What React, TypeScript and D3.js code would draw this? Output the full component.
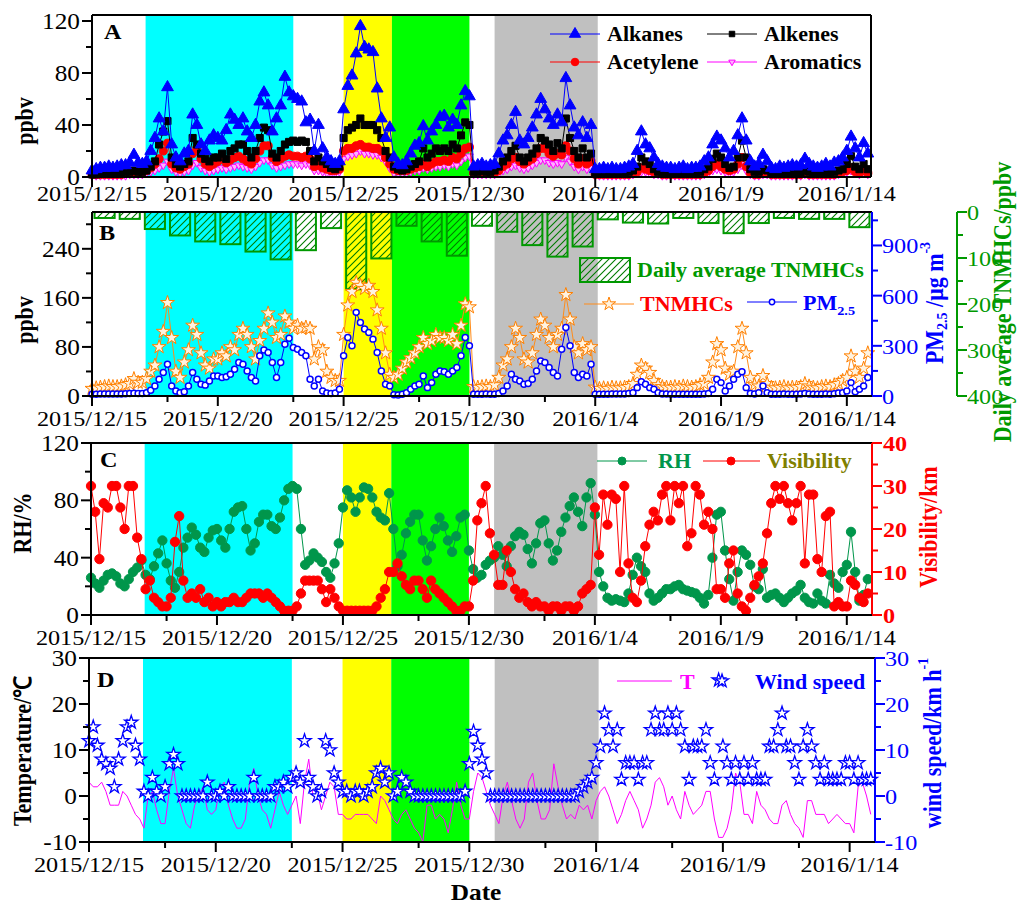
import React from "react";
import * as d3 from "d3";

// ---------- DATA (4-hourly values starting 2015/12/15 00:00) ----------
const alkanes = [
  5,6,7,7,8,7, 8,9,9,11,17,11, 10,12,20,30,45,35, 69,25,15,12,18,20, 48,40,25,20,28,32,
  30,28,36,48,44,40, 45,35,30,40,58,65, 55,35,45,55,77,65, 62,60,58,42,44,20, 40,22,15,12,10,12,
  52,70,78,95,116,100, 98,96,68,45,30,38, 15,10,9,12,18,24, 26,39,28,35,40,46, 47,38,44,40,55,66,
  62,8,9,10,8,9, 10,18,28,32,40,50, 28,25,30,38,48,60, 52,45,40,48,42,76, 55,38,32,42,30,40,
  6,6,7,6,7,6, 6,7,8,10,20,35, 25,22,15,10,8,7, 7,6,7,8,6,7, 7,8,12,15,25,31,
  28,22,15,20,32,45, 28,12,8,10,17,12, 7,6,8,7,8,9, 8,9,14,10,8,7, 8,10,8,11,12,15,
  20,31,22,15,26,18,
];
const alkenes = [
  2,2,3,3,3,3, 3,3,4,4,5,4, 4,5,8,12,25,35, 43,15,10,8,10,12, 30,25,18,14,12,15,
  15,18,14,20,22,25, 25,20,15,20,30,38, 36,18,15,20,25,27, 28,27,28,27,20,12, 15,12,10,7,6,8,
  30,36,38,40,45,40, 40,40,36,30,20,15, 8,6,5,6,8,10, 12,22,15,18,22,20, 22,20,25,22,32,42,
  40,4,4,5,4,4, 5,8,12,15,20,24, 15,12,15,18,22,30, 28,25,20,26,22,45, 30,20,15,22,15,18,
  3,3,3,3,3,3, 3,3,4,5,8,15, 12,10,6,4,3,3, 3,3,3,3,3,3, 3,4,6,8,14,18,
  15,10,7,8,15,28, 15,6,4,4,6,5, 3,3,3,3,3,3, 3,3,5,4,3,3, 3,4,3,4,5,6,
  10,16,8,6,10,6,
];
const acetylene = [
  2,2,2,2,2,2, 2,2,3,3,3,3, 4,5,7,10,14,20, 26,10,7,6,8,10, 18,22,14,10,8,10,
  12,14,11,13,15,16, 14,12,10,14,20,24, 24,15,12,14,16,17, 16,16,15,16,14,8, 9,7,6,5,5,6,
  20,22,22,24,25,23, 23,22,22,20,15,10, 6,5,5,5,6,7, 8,10,8,10,12,12, 13,12,15,14,18,22,
  23,3,3,3,3,3, 3,5,8,10,14,15, 12,10,12,14,18,22, 22,18,16,18,17,24, 20,14,10,14,10,12,
  2,2,2,2,2,2, 2,2,2,3,4,7, 6,5,4,3,2,2, 2,2,2,2,2,2, 2,2,3,5,8,10,
  8,6,5,6,10,15, 8,3,2,2,3,3, 2,2,2,2,2,2, 2,2,3,2,2,2, 2,2,2,2,3,4,
  5,7,4,3,5,3,
];
const aromatics = [
  1,1,1,1,1,1, 1,1,1,2,2,2, 2,3,4,5,7,9, 12,6,4,3,4,5, 9,11,7,5,4,5,
  6,7,6,7,8,9, 8,7,6,8,11,13, 13,9,7,8,9,10, 10,10,9,10,9,5, 5,4,3,3,3,4,
  14,16,17,18,20,18, 18,17,17,15,12,7, 3,3,3,3,4,5, 5,7,6,7,8,8, 9,8,10,9,12,15,
  16,2,2,2,2,2, 2,3,5,6,8,9, 7,6,7,9,11,13, 13,11,10,11,10,15, 12,8,6,8,6,7,
  1,1,1,1,1,1, 1,1,1,2,3,4, 4,3,2,2,1,1, 1,1,1,1,1,1, 1,1,2,3,5,6,
  5,4,3,4,6,9, 5,2,1,1,2,2, 1,1,1,1,1,1, 1,1,2,1,1,1, 1,1,1,1,2,3,
  4,5,3,2,3,2,
];
const tnmhcs = [
  12,13,14,15,16,15, 15,16,18,20,28,22, 22,28,40,50,80,105, 152,95,40,30,55,75, 115,100,70,50,45,60,
  60,70,65,80,75,100, 110,100,80,60,90,110, 135,120,95,100,130,120, 110,115,110,112,110,60, 80,75,40,30,25,25,
  100,148,170,185,180,175, 180,170,140,110,70,35, 30,35,45,55,62,70, 80,95,85,90,100,95, 95,90,100,85,115,150,
  145,15,14,15,16,15, 18,30,50,60,80,110, 95,60,55,70,100,125, 115,95,80,100,110,165, 125,80,70,85,75,80,
  14,12,13,12,14,13, 13,14,15,20,35,50, 45,38,25,18,15,14, 14,15,14,16,15,14, 15,18,20,30,55,85,
  75,45,35,40,80,110, 70,30,18,16,33,20, 14,13,14,15,13,14, 14,15,20,16,14,13, 15,16,15,18,20,25,
  30,65,40,30,45,70,
];
const pm25 = [
  10,10,12,12,12,12, 12,12,14,15,16,15, 15,20,35,60,100,140, 190,60,30,20,25,60, 140,100,70,65,90,120,
  120,110,115,130,160,200, 190,150,110,90,240,275, 260,200,110,200,310,345, 290,280,260,240,100,60, 100,30,18,15,18,40,
  240,350,300,500,440,400, 380,340,260,150,70,60, 8,6,10,20,40,60, 70,120,50,80,130,150, 145,130,150,170,240,350,
  300,10,10,10,12,10, 10,15,30,60,130,100, 90,70,75,100,150,210, 200,170,140,120,280,410, 300,140,110,130,120,190,
  10,10,10,10,12,12, 12,12,15,20,50,85, 70,50,40,20,12,12, 10,10,10,10,10,10, 10,10,12,15,40,100,
  80,30,60,100,130,145, 50,15,12,20,60,20, 10,10,10,12,10,10, 10,12,15,12,10,10, 10,12,10,14,18,20,
  30,80,25,40,60,110,
];
const dailyTNMHCs = [13,15,37,51,64,70,86,103,83,35,168,101,30,64,95,30,43,72,97,75,16,23,25,13,24,46,24,13,15,15,33];
const rh = [
  26,22,19,24,28,29, 27,22,20,25,30,33, 38,28,25,34,43,52, 36,24,19,30,47,54, 61,56,47,44,54,59,
  60,52,47,60,72,75, 76,60,45,50,65,70, 70,62,60,68,80,88, 90,88,60,35,38,43, 40,37,30,26,36,50,
  75,87,82,72,82,89, 88,82,72,68,66,85, 60,34,42,57,65,70, 70,52,38,48,60,68, 62,52,44,55,68,70,
  45,32,26,28,35,38, 40,48,42,34,48,55, 58,56,46,36,50,64, 66,50,38,45,58,68, 76,82,72,62,82,92,
  70,30,20,12,10,11, 10,9,15,28,40,34, 30,15,10,12,15,18, 18,20,21,18,17,16, 15,12,8,14,40,70,
  72,45,25,10,30,45, 42,35,20,18,32,12, 14,15,12,9,12,15, 17,21,12,9,8,15, 10,8,28,22,19,30,
  35,58,30,10,14,25,
];
const visibility = [
  30,24,13,26,25,30, 30,25,20,30,30,18, 13,6,8,4,3,2, 2,4,17,23,8,4, 5,4,6,3,4,2,
  3,2,3,3,4,3, 3,4,5,5,5,4, 5,4,3,2,1,1, 1,2,5,8,8,8, 8,6,3,6,4,2,
  1,1,1,1,1,1, 1,1,2,4,6,10, 10,12,9,7,6,8, 8,6,4,8,6,5, 4,3,2,1,1,2,
  2,8,22,26,30,19, 14,7,7,15,10,6, 4,5,3,2,3,2, 2,1,2,2,1,2, 2,1,2,5,6,7,
  25,14,28,21,28,27, 10,30,12,4,3,8, 16,21,24,22,28,30, 22,30,26,30,16,19, 30,28,21,24,20,6,
  6,4,12,15,5,2, 1,4,7,9,12,19, 26,30,27,30,26,22, 26,30,12,28,28,13, 10,23,24,2,3,2,
  2,8,7,4,3,5,
];
const temperature = [
  3,2,2,3,1,-2, -2,-2,1,0,-2,-4, -5,-7,0,1,-3,-6, -6,1,6,0,-3,-6, -7,-2,0,2,-3,-4,
  -3,2,3,-2,-5,-7, -7,-5,3,6,0,-3, -4,-7,-3,1,-2,-4, -2,0,-6,3,8,0, 1,-3,0,3,2,-4,
  -4,-5,-5,-4,-4,-4, -4,-5,-6,0,-1,-3, -5,-6,-4,-3,-5,-7, -8,-10,-2,-2,-5,-4, -5,-8,-3,3,-2,-5,
  -5,1,5,4,1,-2, -4,-6,0,3,-1,-5, -7,-5,3,5,-1,-5, -5,-3,7,2,-2,-5, -4,-5,-2,-3,-2,-5,
  -1,1,2,0,-3,-6, -4,-1,1,-1,-3,-7, -5,-2,3,4,2,-2, 0,-3,-5,1,-2,-4, -3,-2,1,1,-5,-9,
  -9,-7,-3,5,3,-4, -4,-6,1,-2,-3,-5, -6,-6,-2,-1,-4,-6, -7,-9,-1,-1,-4,-4, -4,-6,-5,-4,-5,-6,
  -6,-8,2,3,0,-4,
];
const windSpeed = [
  12,15,11,8,7,6, 2,8,12,15,16,11, 8,1,0,4,1,0, 2,7,9,7,0,0, 0,0,0,0,3,0,
  0,1,0,2,0,0, 0,0,0,4,0,0, 0,0,2,2,3,2, 4,5,3,12,4,2, 0,1,12,10,5,3,
  1,1,0,1,1,0, 1,2,5,6,3,5, 0,1,4,3,1,0, 0,0,0,0,0,0, 0,0,0,0,0,1,
  7,14,11,8,5,0, 0,0,0,0,0,0, 0,0,0,0,0,0, 0,0,0,0,0,0, 0,0,1,2,3,4,
  7.2,10.8,18,14.4,10.8,14.4, 3.6,7.2,7.2,7.2,3.6,7.2, 7.2,14.4,18,14.4,14.4,18, 14.4,18,14.4,10.8,3.6,10.8, 10.8,10.8,14.4,7.2,3.6,25.2,
  10.8,7.2,3.6,7.2,3.6,7.2, 3.6,7.2,3.6,3.6,3.6,10.8, 10.8,14.4,18,10.8,10.8,7.2, 3.6,10.8,14.4,10.8,7.2,3.6, 7.2,3.6,3.6,3.6,3.6,7.2,
  7.2,3.6,7.2,3.6,3.6,3.6,
];

const dateTickDays = [0, 5, 10, 15, 20, 25, 30];
const dateTickLabels = ["2015/12/15", "2015/12/20", "2015/12/25", "2015/12/30", "2016/1/4", "2016/1/9", "2016/1/14"];
const minorTickDays = [3, 8, 13, 18, 23, 28];
const bandStart = [2.13, 10.0, 11.92, 16.0];
const bandEnd = [8.0, 11.92, 15.0, 20.1];
const bandColor = ["#00FFFF", "#FFFF00", "#00FF00", "#C0C0C0"];

// ---------- helpers ----------
const FONT = "'Liberation Serif','Times New Roman',serif";
const PER_DAY = 6;
const dayOf = (i: number) => i / PER_DAY;

function T(props: any) {
  const { x, y, children, size = 22, weight = "normal", fill = "#000", anchor = "start", rot = 0, sx = 1.1, baseline } = props;
  const tr = rot
    ? `translate(${x},${y}) rotate(${rot}) scale(1,${sx})`
    : `translate(${x},${y}) scale(${sx},1)`;
  return (
    <text transform={tr} fontFamily={FONT} fontSize={size} fontWeight={weight} fill={fill}
      textAnchor={anchor} dominantBaseline={baseline}>
      {children}
    </text>
  );
}

function Marker({ x, y, type, size, fill, stroke, sw = 1, rot = 0 }: any) {
  const d = d3.symbol().type(type).size(size)() as string;
  return <path d={d} transform={`translate(${x},${y})${rot ? ` rotate(${rot})` : ""}`} fill={fill} stroke={stroke} strokeWidth={sw} />;
}

function Series({ data, x, y, color, lineW = 1, type, size, fill, stroke, sw = 1, rot = 0, line = true }: any) {
  const pts: [number, number][] = data.map((v: number, i: number) => [x(dayOf(i)), y(v)]);
  const path = d3.line()(pts) as string;
  const sym = type ? (d3.symbol().type(type).size(size)() as string) : "";
  return (
    <g>
      {line && <path d={path} fill="none" stroke={color} strokeWidth={lineW} />}
      {type && pts.map((p, i) => (
        <path key={i} d={sym} transform={`translate(${p[0]},${p[1]})${rot ? ` rotate(${rot})` : ""}`}
          fill={fill} stroke={stroke} strokeWidth={sw} />
      ))}
    </g>
  );
}

function Bands({ x, top, bottom }: any) {
  return (
    <g>
      {bandStart.map((s, i) => (
        <rect key={i} x={x(s)} y={top} width={x(bandEnd[i]) - x(s)} height={bottom - top} fill={bandColor[i]} />
      ))}
    </g>
  );
}

function XAxis({ x, y, left, right, labelDy = 25 }: any) {
  return (
    <g>
      <line x1={left} x2={right} y1={y} y2={y} stroke="#000" strokeWidth={2} />
      {dateTickDays.map((d, i) => (
        <g key={i}>
          <line x1={x(d)} x2={x(d)} y1={y} y2={y + 10} stroke="#000" strokeWidth={2} />
          <T x={x(d)} y={y + labelDy} anchor="middle">{dateTickLabels[i]}</T>
        </g>
      ))}
      {minorTickDays.map((d, i) => (
        <line key={i} x1={x(d)} x2={x(d)} y1={y} y2={y + 6} stroke="#000" strokeWidth={2} />
      ))}
    </g>
  );
}

function YAxis({ scale, x, top, bottom, ticks, minor, side = "left", color = "#000", weight = "normal", labelGap = 12, size = 22, fmt = (v: number) => String(v) }: any) {
  const dir = side === "left" ? -1 : 1;
  return (
    <g>
      <line x1={x} x2={x} y1={top} y2={bottom} stroke={color} strokeWidth={2} />
      {ticks.map((t: number, i: number) => (
        <g key={i}>
          <line x1={x} x2={x + dir * 10} y1={scale(t)} y2={scale(t)} stroke={color} strokeWidth={2} />
          <T x={x + dir * labelGap} y={scale(t) + 8} size={size} anchor={side === "left" ? "end" : "start"} fill={color} weight={weight}>{fmt(t)}</T>
        </g>
      ))}
      {minor.map((t: number, i: number) => (
        <line key={i} x1={x} x2={x + dir * 6} y1={scale(t)} y2={scale(t)} stroke={color} strokeWidth={2} />
      ))}
    </g>
  );
}

export default function App() {
  // panel geometry
  const A = { l: 92, r: 871, t: 15, b: 177 };
  const B = { l: 92, r: 872, t: 212, b: 396 };
  const C = { l: 91, r: 872, t: 443, b: 615 };
  const D = { l: 89, r: 875, t: 658, b: 842 };

  const xA = d3.scaleLinear().domain([0, 31]).range([92, 872]);
  const xC = d3.scaleLinear().domain([0, 31]).range([91, 872]);
  const xD = d3.scaleLinear().domain([0, 31]).range([89, 875]);

  const yA = d3.scaleLinear().domain([0, 120]).range([177, 21]);
  const yB = d3.scaleLinear().domain([0, 300]).range([396, 212]);
  const yPM = d3.scaleLinear().domain([0, 1100]).range([396, 212]);
  const yBar = d3.scaleLinear().domain([0, 400]).range([212, 396]);
  const yRH = d3.scaleLinear().domain([0, 120]).range([615, 443]);
  const yVis = d3.scaleLinear().domain([0, 40]).range([615, 443]);
  const yT = d3.scaleLinear().domain([-10, 30]).range([842, 658]);

  const LG = 20; // legend font size

  return (
    <svg width={1019} height={905} viewBox="0 0 1019 905" style={{ display: "block", position: "absolute", left: 0, top: 0 }}>
      <defs>
        <pattern id="hatch" patternUnits="userSpaceOnUse" width="7" height="7">
          <path d="M0,7 L7,0 M-2,2 L2,-2 M5,9 L9,5" stroke="#007A00" strokeWidth={1.1} />
        </pattern>
      </defs>
      <rect x={0} y={0} width={1019} height={905} fill="#fff" />

      {/* ---------------- Panel A ---------------- */}
      <Bands x={xA} top={A.t} bottom={A.b} />
      <Series data={aromatics} x={xA} y={yA} color="#FF00FF" type={d3.symbolTriangle} size={26} fill="#FFB0FF" stroke="#FF00FF" rot={180} />
      <Series data={acetylene} x={xA} y={yA} color="#FF0000" type={d3.symbolCircle} size={52} fill="#FF0000" stroke="#FF0000" />
      <Series data={alkenes} x={xA} y={yA} color="#000" type={d3.symbolSquare} size={50} fill="#000" stroke="#000" />
      <Series data={alkanes} x={xA} y={yA} color="#0000FF" type={d3.symbolTriangle} size={60} fill="#0000FF" stroke="#0000FF" />
      <line x1={A.l} x2={A.r} y1={A.t} y2={A.t} stroke="#000" strokeWidth={2} />
      <line x1={A.r} x2={A.r} y1={A.t} y2={A.b} stroke="#000" strokeWidth={2} />
      <YAxis scale={yA} x={A.l} top={A.t} bottom={A.b} ticks={[0, 40, 80, 120]} minor={[20, 60, 100]} size={23} />
      <XAxis x={xA} y={A.b} left={A.l} right={A.r} labelDy={24} />
      <T x={104} y={39} weight="bold" size={22}>A</T>
      <T x={25} y={121} rot={-90} anchor="middle" baseline="central" weight="bold">ppbv</T>
      {/* legend A */}
      <line x1={550} x2={600} y1={34} y2={34} stroke="#0000FF" strokeWidth={1} />
      <Marker x={575} y={34} type={d3.symbolTriangle} size={55} fill="#0000FF" stroke="#0000FF" />
      <T x={607} y={41} size={LG} weight="bold">Alkanes</T>
      <line x1={707} x2={757} y1={34} y2={34} stroke="#000" strokeWidth={1} />
      <Marker x={732} y={34} type={d3.symbolSquare} size={30} fill="#000" stroke="#000" />
      <T x={764} y={41} size={LG} weight="bold">Alkenes</T>
      <line x1={550} x2={600} y1={62} y2={62} stroke="#FF0000" strokeWidth={1} />
      <Marker x={575} y={62} type={d3.symbolCircle} size={45} fill="#FF0000" stroke="#FF0000" />
      <T x={607} y={69} size={LG} weight="bold">Acetylene</T>
      <line x1={707} x2={757} y1={62} y2={62} stroke="#FF00FF" strokeWidth={1} />
      <Marker x={732} y={62} type={d3.symbolTriangle} size={18} fill="#FFB0FF" stroke="#FF00FF" rot={180} />
      <T x={764} y={69} size={LG} weight="bold">Aromatics</T>

      {/* ---------------- Panel B ---------------- */}
      <Bands x={xA} top={B.t} bottom={B.b} />
      {dailyTNMHCs.map((v, i) => (
        <rect key={i} x={xA(i + 0.1)} y={yBar(0)} width={xA(i + 0.9) - xA(i + 0.1)} height={yBar(v) - yBar(0)}
          fill="url(#hatch)" stroke="#009900" strokeWidth={2} />
      ))}
      <Series data={tnmhcs} x={xA} y={yB} color="#FF8C1A" type={d3.symbolStar} size={60} fill="#FFF3E0" stroke="#FF8000" />
      <Series data={pm25} x={xA} y={yPM} color="#0000FF" type={d3.symbolCircle} size={28} fill="#fff" stroke="#0000FF" sw={1.5} />
      <line x1={B.l} x2={B.r} y1={B.t} y2={B.t} stroke="#000" strokeWidth={2} />
      <YAxis scale={yB} x={B.l} top={B.t} bottom={B.b} ticks={[0, 80, 160, 240]} minor={[40, 120, 200, 280]} size={23} />
      <YAxis scale={yPM} x={B.r} top={B.t} bottom={B.b} ticks={[0, 300, 600, 900]} minor={[150, 450, 750, 1050]} side="right" color="#0000FF" labelGap={10} />
      <YAxis scale={yBar} x={957} top={yBar(0)} bottom={yBar(400)} ticks={[0, 100, 200, 300, 400]} minor={[50, 150, 250, 350]} side="right" color="#009900" labelGap={10} />
      <XAxis x={xA} y={B.b} left={B.l} right={B.r} labelDy={30} />
      <T x={99} y={240} weight="bold" size={22}>B</T>
      <T x={25} y={320} rot={-90} anchor="middle" baseline="central" weight="bold">ppbv</T>
      <text transform="translate(935,303) rotate(-90) scale(1,1.1)" fontFamily={FONT} fontSize={22} fontWeight="bold" fill="#0000FF" textAnchor="middle" dominantBaseline="central">
        PM<tspan fontSize={14} dy={6}>2.5</tspan><tspan dy={-6}> /μg m</tspan><tspan fontSize={14} dy={-9}>-3</tspan>
      </text>
      <T x={1003} y={302} rot={-90} anchor="middle" baseline="central" weight="bold" fill="#009900">Daily average TNMHCs/ppbv</T>
      {/* legend B */}
      <rect x={580} y={258} width={50} height={24} fill="url(#hatch)" stroke="#009900" strokeWidth={2} />
      <T x={637} y={277} size={LG} weight="bold" fill="#009900">Daily average TNMHCs</T>
      <line x1={584} x2={634} y1={304} y2={304} stroke="#FF8C1A" strokeWidth={1} />
      <Marker x={609} y={304} type={d3.symbolStar} size={55} fill="#FFF3E0" stroke="#FF8000" />
      <T x={640} y={311} size={LG} weight="bold" fill="#FF0000">TNMHCs</T>
      <line x1={747} x2={797} y1={302} y2={302} stroke="#0000FF" strokeWidth={1} />
      <Marker x={772} y={302} type={d3.symbolCircle} size={22} fill="#fff" stroke="#0000FF" sw={1.5} />
      <text transform="translate(803,310) scale(1.1,1)" fontFamily={FONT} fontSize={LG} fontWeight="bold" fill="#0000FF">
        PM<tspan fontSize={13} dy={5}>2.5</tspan>
      </text>

      {/* ---------------- Panel C ---------------- */}
      <Bands x={xC} top={C.t} bottom={C.b} />
      <Series data={rh} x={xC} y={yRH} color="#00964B" type={d3.symbolCircle} size={68} fill="#00964B" stroke="#00964B" />
      <Series data={visibility} x={xC} y={yVis} color="#FF0000" type={d3.symbolCircle} size={68} fill="#FF0000" stroke="#FF0000" />
      <line x1={C.l} x2={C.r} y1={C.t} y2={C.t} stroke="#000" strokeWidth={2} />
      <YAxis scale={yRH} x={C.l} top={C.t} bottom={C.b} ticks={[0, 40, 80, 120]} minor={[20, 60, 100]} size={23} />
      <YAxis scale={yVis} x={C.r} top={C.t} bottom={C.b} ticks={[0, 10, 20, 30, 40]} minor={[5, 15, 25, 35]} side="right" color="#FF0000" weight="bold" labelGap={11} />
      <XAxis x={xC} y={C.b} left={C.l} right={C.r} labelDy={30} />
      <T x={100} y={467} weight="bold" size={22}>C</T>
      <T x={23} y={523} rot={-90} anchor="middle" baseline="central" weight="bold">RH/%</T>
      <T x={929} y={527} rot={-90} anchor="middle" baseline="central" weight="bold" fill="#FF0000">Visibility/km</T>
      {/* legend C */}
      <line x1={597} x2={647} y1={461} y2={461} stroke="#00964B" strokeWidth={1} />
      <Marker x={622} y={461} type={d3.symbolCircle} size={50} fill="#00964B" stroke="#00964B" />
      <T x={658} y={468} size={LG} weight="bold" fill="#00964B">RH</T>
      <line x1={703} x2={760} y1={461} y2={461} stroke="#FF0000" strokeWidth={1} />
      <Marker x={731} y={461} type={d3.symbolCircle} size={50} fill="#FF0000" stroke="#FF0000" />
      <T x={767} y={468} size={LG} weight="bold" fill="#808000">Visibility</T>

      {/* ---------------- Panel D ---------------- */}
      <Bands x={xD} top={D.t} bottom={D.b} />
      <Series data={temperature} x={xD} y={yT} color="#FF00FF" lineW={1} />
      <Series data={windSpeed} x={xD} y={yT} line={false} type={d3.symbolStar} size={55} fill="#fff" stroke="#0000FF" sw={1.3} />
      <line x1={D.l} x2={D.r} y1={D.t} y2={D.t} stroke="#000" strokeWidth={2} />
      <YAxis scale={yT} x={D.l} top={D.t} bottom={D.b} ticks={[-10, 0, 10, 20, 30]} minor={[-5, 5, 15, 25]} size={23} />
      <YAxis scale={yT} x={D.r} top={D.t} bottom={D.b} ticks={[-10, 0, 10, 20, 30]} minor={[-5, 5, 15, 25]} side="right" color="#0000FF" labelGap={10} />
      <XAxis x={xD} y={D.b} left={D.l} right={D.r} labelDy={30} />
      <T x={97} y={687} weight="bold" size={22}>D</T>
      <T x={23} y={751} rot={-90} anchor="middle" baseline="central" weight="bold">Temperature/℃</T>
      <text transform="translate(933,743) rotate(-90) scale(1,1.1)" fontFamily={FONT} fontSize={22} fontWeight="bold" fill="#0000FF" textAnchor="middle" dominantBaseline="central">
        wind speed/km h<tspan fontSize={14} dy={-9}>-1</tspan>
      </text>
      {/* legend D */}
      <line x1={617} x2={672} y1={681} y2={681} stroke="#FF00FF" strokeWidth={1} />
      <T x={680} y={689} size={LG} weight="bold" fill="#FF00FF">T</T>
      <Marker x={722} y={681} type={d3.symbolStar} size={55} fill="#fff" stroke="#0000FF" sw={1.3} />
      <T x={755} y={689} size={LG} weight="bold" fill="#0000FF">Wind speed</T>

      <T x={476} y={900} anchor="middle" weight="bold" size={23}>Date</T>
    </svg>
  );
}
